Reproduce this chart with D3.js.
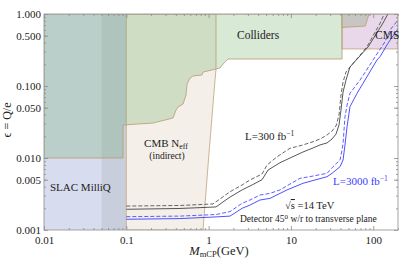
<!DOCTYPE html>
<html>
<head>
<meta charset="utf-8">
<script src="https://cdn.jsdelivr.net/npm/d3@7"></script>
<style>
  body { margin: 0; background: #fff; }
  svg { display: block; font-family: "Liberation Serif", "Times New Roman", serif; }
</style>
</head>
<body>
<svg id="chart" width="399" height="261"></svg>
<script>
// excluded regions, polygon vertices as (mass GeV, epsilon)
var slacMass = [0.01, 0.1, 0.1, 0.01];
var slacEps = [0.001, 0.001, 1, 1];

var cmbMass = [0.1, 0.855, 1.0, 1.18, 1.23, 1.23, 0.1];
var cmbEps = [0.001, 0.001, 0.01, 0.1, 0.17, 1, 1];

var colliderMass = [0.01, 0.01, 0.0912, 0.0912, 0.211, 0.369, 0.402, 0.425, 0.489, 0.531, 0.547, 0.594, 0.646, 0.831, 0.855, 1.10, 1.23, 1.38, 1.50, 1.72, 41.8, 41.8];
var colliderEps = [1, 0.01, 0.01, 0.0287, 0.0306, 0.0359, 0.0464, 0.0511, 0.0562, 0.075, 0.1066, 0.129, 0.138, 0.142, 0.156, 0.167, 0.172, 0.178, 0.202, 0.237, 0.237, 1];

var bandMass = [0.05, 0.1, 0.1, 0.05];
var bandEps = [0.001, 0.001, 1, 1];

var cmsMass = [41.8, 200, 200, 41.8];
var cmsEps = [0.327, 0.327, 1, 1];

var greyMass = [41.8, 89, 80, 41.8];
var greyEps = [1, 1, 0.68, 0.65];

// projected reach
var l300Mass = [0.1, 0.449, 1.23, 1.82, 2.55, 3.37, 4.46, 5.27, 7.37, 9.75, 14.0, 18.6, 22.6, 27.5, 31.6, 35.3, 38.4, 40.6, 43.0, 46.7, 52.2, 86.5, 131.5, 160];
var l300Eps = [0.00194, 0.00199, 0.00209, 0.00287, 0.0036, 0.00422, 0.00500, 0.0068, 0.0086, 0.0100, 0.0121, 0.0138, 0.0152, 0.0162, 0.0184, 0.0215, 0.0287, 0.0464, 0.0825, 0.121, 0.184, 0.348, 0.75, 1.14];

var l300dMass = [0.1, 0.449, 1.131, 1.82, 2.55, 3.18, 4.46, 5.13, 6.78, 9.75, 14.0, 18.6, 22.6, 27.5, 31.6, 35.3, 38.4, 40.6, 43.0, 46.7, 84.1, 121, 143];
var l300dEps = [0.00215, 0.00219, 0.0023, 0.0034, 0.00422, 0.00495, 0.0060, 0.0080, 0.0104, 0.01364, 0.01517, 0.01684, 0.01836, 0.0209, 0.0237, 0.0278, 0.0396, 0.075, 0.1136, 0.1565, 0.3515, 0.743, 1.137];

var l3000Mass = [0.1, 0.449, 1.23, 1.82, 2.55, 3.18, 4.21, 5.57, 8.97, 14.0, 19.6, 27.5, 31.6, 39.5, 43.0, 45.4, 48.1, 52.2, 63.6, 75.2, 111, 121, 151, 184, 212];
var l3000Eps = [0.00141, 0.00144, 0.00152, 0.00156, 0.002, 0.00222, 0.00261, 0.00275, 0.0036, 0.00445, 0.00495, 0.0055, 0.00613, 0.00757, 0.00938, 0.01517, 0.0272, 0.0516, 0.0792, 0.109, 0.2297, 0.255, 0.392, 0.545, 0.681];

var l3000dMass = [0.1, 0.449, 1.23, 1.82, 2.55, 3.18, 4.21, 5.57, 7.37, 9.75, 12.9, 18.6, 27.5, 32.5, 39.5, 41.8, 43.0, 45.4, 48.1, 52.2, 69.2, 99.5, 139, 160, 200];
var l3000dEps = [0.00153, 0.00156, 0.00164, 0.0018, 0.00235, 0.00261, 0.00306, 0.00323, 0.0036, 0.00435, 0.00522, 0.00562, 0.00613, 0.00757, 0.00938, 0.0129, 0.016, 0.0375, 0.0545, 0.0792, 0.121, 0.2297, 0.412, 0.6, 0.825];

// ticks
var xMajor = [0.01, 0.1, 1, 10, 100];
var xLabels = ["0.01", "0.1", "1", "10", "100"];
var yMajor = [0.001, 0.005, 0.01, 0.05, 0.1, 0.5, 1];
var yLabels = ["0.001", "0.005", "0.010", "0.050", "0.100", "0.500", "1.000"];

var svg = d3.select("#chart");
var padL = 44, padR = 398, padT = 14, padB = 230;

var x = d3.scaleLog().domain([0.01, 200]).range([padL, padR]);
var y = d3.scaleLog().domain([0.001, 1]).range([padB, padT]);

svg.append("defs").append("clipPath").attr("id", "plotClip")
   .append("rect").attr("x", padL).attr("y", padT).attr("width", padR - padL).attr("height", padB - padT);

var plot = svg.append("g").attr("clip-path", "url(#plotClip)");

function pts(ms, es) {
    return ms.map(function(m, i) { return [x(m), y(es[i])]; });
}
var area = d3.line().curve(d3.curveLinearClosed);
var line = d3.line();

function region(ms, es, fill, opacity, stroke) {
    plot.append("path").attr("d", area(pts(ms, es)))
        .attr("fill", fill).attr("fill-opacity", opacity)
        .attr("stroke", stroke).attr("stroke-width", 0.8);
}

region(slacMass, slacEps, "#d7ddef", 1, "none");
region(bandMass, bandEps, "#6e6e60", 0.13, "none");
region(cmbMass, cmbEps, "#f4efe9", 1, "#c0a27c");
region(cmsMass, cmsEps, "#e9d8e9", 1, "#c0a27c");
region(colliderMass, colliderEps, "#63a75b", 0.25, "#b89a70");
region(greyMass, greyEps, "#c4c4be", 0.9, "#b89a70");

function curve(ms, es, color, dash) {
    plot.append("path").attr("d", line(pts(ms, es)))
        .attr("fill", "none").attr("stroke", color).attr("stroke-width", 0.9)
        .attr("stroke-dasharray", dash);
}
curve(l300dMass, l300dEps, "#555", "4,2");
curve(l300Mass, l300Eps, "#444", null);
curve(l3000dMass, l3000dEps, "#4b4bff", "4,2");
curve(l3000Mass, l3000Eps, "#3c3cff", null);

// minor ticks
function minors(lo, hi) {
    var out = [];
    for (var d = lo; d < hi; d *= 10) {
        for (var k = 2; k <= 9; k++) out.push(d * k);
    }
    return out;
}
var xMinor = minors(0.01, 200).filter(function(v) { return v <= 200; });
var yMinor = minors(0.001, 1);

function axisGroup(axis, tr) {
    var g = svg.append("g").attr("transform", tr).call(axis);
    g.select(".domain").remove();
    g.selectAll("line").attr("stroke", "#888").attr("stroke-width", 0.8);
    return g;
}
axisGroup(d3.axisBottom(x).tickValues(xMinor).tickSize(-2).tickFormat(""), "translate(0," + padB + ")");
axisGroup(d3.axisTop(x).tickValues(xMinor).tickSize(-2).tickFormat(""), "translate(0," + padT + ")");
axisGroup(d3.axisTop(x).tickValues(xMajor).tickSize(-4).tickFormat(""), "translate(0," + padT + ")");
axisGroup(d3.axisLeft(y).tickValues(yMinor).tickSize(-2).tickFormat(""), "translate(" + padL + ",0)");
axisGroup(d3.axisRight(y).tickValues(yMinor).tickSize(-2).tickFormat(""), "translate(" + padR + ",0)");
axisGroup(d3.axisRight(y).tickValues(yMajor).tickSize(-4).tickFormat(""), "translate(" + padR + ",0)");

var xa = axisGroup(d3.axisBottom(x).tickValues(xMajor).tickSize(-4).tickPadding(6)
    .tickFormat(function(d, i) { return xLabels[i]; }), "translate(0," + padB + ")");
var ya = axisGroup(d3.axisLeft(y).tickValues(yMajor).tickSize(-4).tickPadding(3)
    .tickFormat(function(d, i) { return yLabels[i]; }), "translate(" + padL + ",0)");
[xa, ya].forEach(function(g) {
    g.selectAll("text").attr("font-family", "Liberation Serif, serif").attr("font-size", 11).attr("fill", "#222");
});

svg.append("rect").attr("x", padL).attr("y", padT).attr("width", padR - padL).attr("height", padB - padT)
   .attr("fill", "none").attr("stroke", "#999").attr("stroke-width", 0.9);

// labels
function label(tx, ty, size, color, anchor) {
    return svg.append("text").attr("x", tx).attr("y", ty).attr("font-size", size)
        .attr("fill", color || "#222").attr("text-anchor", anchor || "start");
}
label(237, 39, 11.5).text("Colliders");
label(375, 39, 11.5).text("CMS");
label(50, 191, 11).text("SLAC MilliQ");
var cmb = label(166, 147, 11, null, "middle");
cmb.append("tspan").text("CMB N");
cmb.append("tspan").attr("font-size", 8).attr("dy", 2).text("eff");
label(167, 159, 9.5, null, "middle").text("(indirect)");

var l1 = label(245, 140, 11);
l1.append("tspan").text("L=300 fb");
l1.append("tspan").attr("font-size", 7.5).attr("dy", -4).text("\u22121");
var l2 = label(333, 185, 11, "#3c3cff");
l2.append("tspan").text("L=3000 fb");
l2.append("tspan").attr("font-size", 7.5).attr("dy", -4).text("\u22121");

var rs = label(285, 209, 10.5);
rs.append("tspan").text("\u221A");
rs.append("tspan").attr("text-decoration", "overline").text("s");
rs.append("tspan").text(" =14 TeV");
var det = label(240, 222, 9.5);
det.append("tspan").text("Detector 45");
det.append("tspan").attr("font-size", 7).attr("dy", -3.5).text("0");
det.append("tspan").attr("dy", 3.5).text(" w/r to transverse plane");

var xl = label(219, 255, 12.5, null, "middle");
xl.append("tspan").attr("font-style", "italic").text("M");
xl.append("tspan").attr("font-size", 8.5).attr("dy", 2).text("mCP");
xl.append("tspan").attr("dy", -2).text("(GeV)");

label(0, 0, 12, null, "middle").attr("transform", "translate(11,120) rotate(-90)").text("\u03F5 = Q/e");
</script>
</body>
</html>
